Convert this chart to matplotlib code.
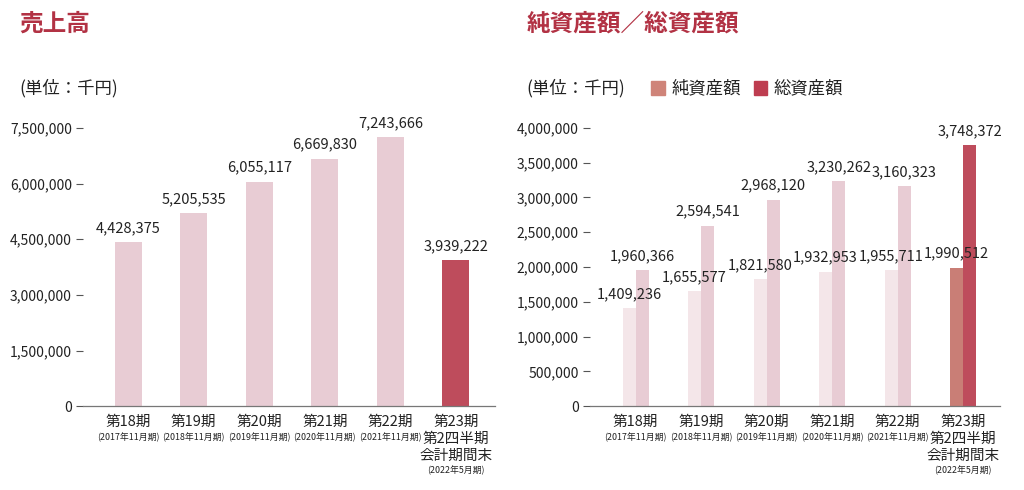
import numpy as np
import matplotlib.pyplot as plt

plt.rcParams['font.family'] = ['Noto Sans CJK JP', 'DejaVu Sans']

# データ
periods = ['第18期', '第19期', '第20期', '第21期', '第22期', '第23期\n第2四半期\n会計期間末']
sub_labels = ['(2017年11月期)', '(2018年11月期)', '(2019年11月期)', '(2020年11月期)',
              '(2021年11月期)', '(2022年5月期)']
sales = [4428375, 5205535, 6055117, 6669830, 7243666, 3939222]
net_assets = [1409236, 1655577, 1821580, 1932953, 1955711, 1990512]
total_assets = [1960366, 2594541, 2968120, 3230262, 3160323, 3748372]

sales_ticks = [0, 1500000, 3000000, 4500000, 6000000, 7500000]
asset_ticks = [0, 500000, 1000000, 1500000, 2000000, 2500000, 3000000, 3500000, 4000000]

title_color = '#B23244'
pale = '#E8CCD4'
paler = '#F4E6E9'
dark = '#BE4C5C'
salmon = '#C97E76'
text_color = '#222222'

fig = plt.figure(figsize=(10.24, 4.9), dpi=100)
ax1 = fig.add_axes([0.081, 0.171, 0.402, 0.568])
ax2 = fig.add_axes([0.576, 0.171, 0.401, 0.568])

x = np.arange(len(periods))


def style_axis(ax, ticks):
    for s in ['top', 'right', 'left']:
        ax.spines[s].set_visible(False)
    ax.spines['bottom'].set_color('#777777')
    ax.spines['bottom'].set_linewidth(0.9)
    ax.set_yticks(ticks)
    ax.set_yticklabels([f'{t:,}' for t in ticks], fontsize=10, color=text_color)
    ax.tick_params(axis='y', length=5, width=0.8, color='#555555', pad=3)
    ax.set_xticks([])
    ax.set_ylim(0, ticks[-1])
    for i in range(len(periods)):
        lines = periods[i].split('\n')
        for k, line in enumerate(lines):
            ax.annotate(line, xy=(i, 0), xytext=(0, -6.5 - 12 * k), textcoords='offset points',
                        ha='center', va='top', fontsize=10.5, color=text_color,
                        annotation_clip=False)
        ax.annotate(sub_labels[i], xy=(i, 0), xytext=(0, -6.5 - 12 * (len(lines) - 1) - 12.5),
                    textcoords='offset points', ha='center', va='top', fontsize=6.4,
                    color=text_color, annotation_clip=False)


# 売上高
colors1 = [pale] * 5 + [dark]
ax1.bar(x, sales, width=0.41, color=colors1)
ax1.set_xlim(-0.69, 5.59)
style_axis(ax1, sales_ticks)
for i, v in enumerate(sales):
    ax1.annotate(f'{v:,}', xy=(i, v), xytext=(0, 5), textcoords='offset points',
                 ha='center', va='bottom', fontsize=10.5, color=text_color)

# 純資産額／総資産額
w = 0.2
net_colors = [paler] * 5 + [salmon]
tot_colors = [pale] * 5 + [dark]
ax2.bar(x - w / 2, net_assets, width=w, color=net_colors)
ax2.bar(x + w / 2, total_assets, width=w, color=tot_colors)
ax2.set_xlim(-0.70, 5.57)
style_axis(ax2, asset_ticks)
for i in range(len(periods)):
    ax2.annotate(f'{net_assets[i]:,}', xy=(x[i] - w / 2, net_assets[i]), xytext=(0, 5),
                 textcoords='offset points', ha='center', va='bottom', fontsize=10.5,
                 color=text_color)
    ax2.annotate(f'{total_assets[i]:,}', xy=(x[i] + w / 2, total_assets[i]), xytext=(0, 5),
                 textcoords='offset points', ha='center', va='bottom', fontsize=10.5,
                 color=text_color)

# タイトル
fig.text(0.019, 0.952, '売上高', fontsize=17, fontweight='bold', color=title_color, va='center')
fig.text(0.514, 0.952, '純資産額／総資産額', fontsize=17, fontweight='bold', color=title_color,
         va='center')
fig.text(0.019, 0.82, '(単位：千円)', fontsize=12.5, color=text_color, va='center')
fig.text(0.514, 0.82, '(単位：千円)', fontsize=12.5, color=text_color, va='center')

# 凡例
fig.patches.append(plt.Rectangle((0.636, 0.806), 0.0135, 0.029, transform=fig.transFigure,
                                 color='#CF8479'))
fig.text(0.656, 0.82, '純資産額', fontsize=12.5, color=text_color, va='center')
fig.patches.append(plt.Rectangle((0.736, 0.806), 0.0135, 0.029, transform=fig.transFigure,
                                 color='#BE3D50'))
fig.text(0.755, 0.82, '総資産額', fontsize=12.5, color=text_color, va='center')

fig.savefig('out.png', dpi=100, facecolor='white')
